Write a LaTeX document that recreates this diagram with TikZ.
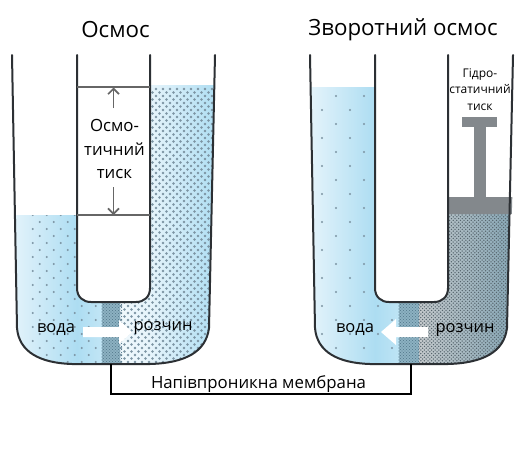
\documentclass[tikz,border=0pt]{standalone}
\usepackage{fontspec}
\setmainfont{Open Sans}
\usetikzlibrary{arrows.meta}
\definecolor{wall}{HTML}{2C3034}
\definecolor{pale}{HTML}{E6F4FB}
\definecolor{aqua}{HTML}{ADDDF2}
\definecolor{spot}{HTML}{7C94A3}
\definecolor{rule}{HTML}{666666}
\definecolor{steel}{HTML}{83888C}
\definecolor{barrier}{HTML}{8FB4C4}
\definecolor{barrierdot}{HTML}{5A7F92}
\definecolor{brine}{HTML}{56656D}
\tikzset{
  x=1pt,y=-1pt,
  glass/.style={draw=wall,line width=2pt,line cap=round},
  borewall/.style={glass,fill=white},
  levelline/.style={draw=rule,line width=1.1pt},
  pressure/.style={draw=rule,line width=1.6pt,-{Straight Barb[length=5.5pt,width=11pt]}},
  flowarrow/.style={fill=white,draw=none},
  lead/.style={draw=black,line width=2pt},
  headline/.style={font=\fontsize{22.3}{26}\selectfont,inner sep=0pt},
  liquidtag/.style={font=\fontsize{16.5}{20}\selectfont,inner sep=0pt},
  stacktext/.style={font=\fontsize{16.8}{23.5}\selectfont,align=center,inner sep=0pt},
  smalltext/.style={font=\fontsize{12}{16.5}\selectfont,align=center,inner sep=0pt},
  membranetext/.style={font=\fontsize{16.8}{20}\selectfont,inner sep=0pt},
  barrierbox/.style={inner sep=0pt,minimum width=18pt,minimum height=62pt}
}
% staggered dot field: x0, x1, y0, y1, spacing, row height, colour, radius
\newcommand{\dotfield}[8]{%
  \pgfmathtruncatemacro{\rowsN}{(#4-#3)/#6}%
  \pgfmathtruncatemacro{\colsN}{(#2-#1)/#5}%
  \foreach \rr in {0,...,\rowsN}{%
    \pgfmathsetmacro{\yy}{#3+\rr*#6}%
    \pgfmathsetmacro{\xs}{#1+mod(\rr,2)*#5/2}%
    \fill[#7] \foreach \cc in {0,...,\colsN}{(\xs+\cc*#5,\yy) circle (#8)};%
  }}
% outer U of a tube, open at the top
\newcommand{\uprofile}{(12,55) -- (17,328) .. controls (19,352) and (40,363) .. (72,364) -- (150,364)
  .. controls (185,363) and (206,352) .. (209,328) -- (215,55)}
% inner bore of a tube
\newcommand{\boreprofile}{(77,55) -- (77,288) .. controls (77,297) and (83,302) .. (91,302) -- (136,302)
  .. controls (144,302) and (150,297) .. (150,288) -- (150,55)}
\begin{document}
\begin{tikzpicture}
\useasboundingbox (0,0) rectangle (526,455);
\fill[white] (0,0) rectangle (526,455);

% osmosis tube: liquids
\begin{scope}
  \clip \uprofile -- cycle;
  \begin{scope}
    \clip (0,215) rectangle (102,370);
    \shade[left color=pale,right color=aqua] (10,215) rectangle (77,370);
    \shade[left color=aqua,right color=aqua!75!white] (77,215) rectangle (102,370);
    \dotfield{32.7}{100}{215}{364}{14}{7}{spot}{1.15}
  \end{scope}
  \begin{scope}
    \clip (120,85) rectangle (220,370);
    \shade[left color=pale!60!white,right color=pale] (120,85) rectangle (150,370);
    \shade[left color=pale,right color=aqua] (150,85) rectangle (218,370);
    \dotfield{121}{216}{89}{364}{7}{3.5}{spot}{1.35}
  \end{scope}
  \fill[barrier] (102,302) rectangle (120,370);
  \dotfield{102}{120}{303}{364}{3}{1.5}{barrierdot}{0.6}
\end{scope}

% reverse osmosis tube: liquids
\begin{scope}[shift={(298,0)}]
  \clip \uprofile -- cycle;
  \begin{scope}
    \clip (0,87) rectangle (101,370);
    \shade[left color=pale,right color=aqua] (10,87) rectangle (77,370);
    \shade[left color=aqua,right color=aqua!80!white] (77,87) rectangle (101,370);
    \dotfield{10}{96}{96}{360}{28}{14}{spot}{1.15}
  \end{scope}
  \begin{scope}
    \clip (121,214) rectangle (220,370);
    \shade[left color=brine!35!white,right color=brine!45!aqua] (121,214) rectangle (218,370);
    \dotfield{121}{216}{215}{364}{3.6}{1.8}{brine}{0.75}
  \end{scope}
  \fill[barrier] (101,302) rectangle (121,370);
  \dotfield{101}{121}{303}{364}{3}{1.5}{barrierdot}{0.6}
\end{scope}

% piston pressing on the solution
\fill[steel] (448,197) -- (512.3,197) -- (511.8,214) -- (448,214) -- cycle;
\fill[steel] (474,125) rectangle (486,198);
\fill[steel] (462,117) rectangle (497,127);

% white flow arrows
\fill[flowarrow] (83,327) -- (119,327) -- (119,320) -- (132,332) -- (119,344) -- (119,337) -- (83,337) -- cycle;
\fill[flowarrow] (428,327) -- (396,327) -- (396,319) -- (381,332) -- (396,345) -- (396,337) -- (428,337) -- cycle;

% tube walls
\draw[glass] \uprofile;
\draw[borewall] \boreprofile;
\begin{scope}[shift={(298,0)}]
  \draw[glass] \uprofile;
  \draw[borewall] \boreprofile;
\end{scope}

% osmotic pressure marks
\coordinate (levelTopL) at (77,87);
\coordinate (levelTopR) at (150,87);
\coordinate (levelLowL) at (77,215);
\coordinate (levelLowR) at (150,215);
\coordinate (gaugeTop) at (113.5,87.5);
\coordinate (gaugeLow) at (113.5,215);
\coordinate (gaugeTopStart) at (113.5,108);
\coordinate (gaugeLowStart) at (113.5,187);
\draw[levelline] (levelTopL) -- (levelTopR);
\draw[levelline] (levelLowL) -- (levelLowR);
\draw[pressure] (gaugeTopStart) -- (gaugeTop);
\draw[pressure] (gaugeLowStart) -- (gaugeLow);

% labels
\node[headline] (osmosis) at (115.5,29.5) {Осмос};
\node[headline] (reverse) at (403,29.5) {Зворотний осмос};
\node[stacktext] (osmotic) at (114.5,149) {Осмо-\\тичний\\тиск};
\node[smalltext] (hydro) at (480,89.5) {Гідро-\\статичний\\тиск};
\node[liquidtag] (waterL) at (56,330) {вода};
\node[liquidtag] (soluteL) at (163,328) {розчин};
\node[liquidtag] (waterR) at (355,330) {вода};
\node[liquidtag] (soluteR) at (465,330) {розчин};
\node[membranetext] (membrane) at (258.5,384) {Напівпроникна мембрана};

% leader joining both membranes
\node[barrierbox] (barrierL) at (110.5,333) {};
\node[barrierbox] (barrierR) at (410.5,333) {};
\coordinate (leadL) at (110.5,394);
\coordinate (leadR) at (410.5,394);
\draw[lead] (barrierL.south) -- (leadL) -- (leadR) -- (barrierR.south);
\end{tikzpicture}
\end{document}
